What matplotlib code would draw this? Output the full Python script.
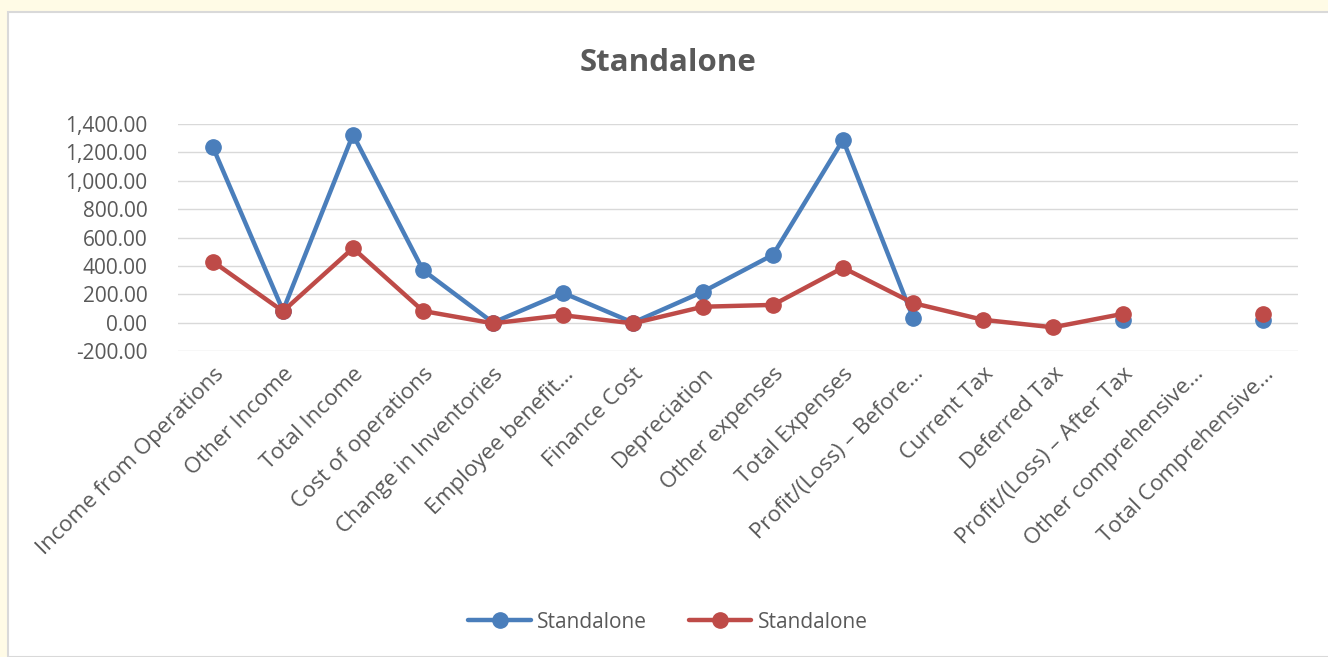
import matplotlib
matplotlib.use('Agg')
import matplotlib.pyplot as plt
from matplotlib.patches import Rectangle
from matplotlib.ticker import FuncFormatter
import numpy as np

categories = [
  'Income from Operations', 'Other Income', 'Total Income', 'Cost of operations',
  'Change in Inventories', 'Employee benefit...', 'Finance Cost', 'Depreciation',
  'Other expenses', 'Total Expenses', 'Profit/(Loss) \u2013 Before...', 'Current Tax',
  'Deferred Tax', 'Profit/(Loss) \u2013 After Tax', 'Other comprehensive...',
  'Total Comprehensive...',
]

# nan = no value in the source table
series_a = [1235, 85, 1325, 370, 0, 210, 0, 218, 478, 1288, 35,
            np.nan, np.nan, 22, np.nan, 22]
series_b = [430, 80, 525, 82, -5, 52, -5, 112, 125, 387, 138,
            20, -33, 62, np.nan, 62]
series_names = ['Standalone', 'Standalone']

blue = '#4a7ebb'
red = '#be4b48'
text_grey = '#595959'

plt.rcParams['font.family'] = ['Open Sans', 'DejaVu Sans']

fig = plt.figure(figsize=(13.28, 6.57), dpi=100)
fig.patch.set_facecolor('#fffbe6')

# white chart box with a light border, kept behind the axes
box = Rectangle((8 / 1328, 0), 1.0, 1 - 12 / 657,
                transform=fig.transFigure, facecolor='white',
                edgecolor='#d9d9d9', linewidth=1.5, zorder=-10)
fig.patches.append(box)

ax = fig.add_axes([178 / 1328, 1 - 351 / 657, (1298 - 178) / 1328, (351 - 124) / 657])
ax.set_zorder(1)
ax.set_facecolor('white')

x = np.arange(len(categories))
ax.plot(x, series_a, color=blue, lw=3.2, marker='o', ms=11, label=series_names[0],
        zorder=3, solid_capstyle='round')
ax.plot(x, series_b, color=red, lw=3.2, marker='o', ms=11, label=series_names[1],
        zorder=4, solid_capstyle='round')

ax.set_xlim(-0.5, len(categories) - 0.5)
ax.set_ylim(-200, 1400)
ax.set_yticks(np.arange(-200, 1401, 200))
ax.yaxis.set_major_formatter(FuncFormatter(lambda v, p: f'{v:,.2f}'))
ax.grid(axis='y', color='#d9d9d9', lw=1)
ax.set_axisbelow(True)
for s in ax.spines.values():
  s.set_visible(False)
ax.tick_params(axis='both', length=0, colors=text_grey, labelsize=15)
ax.tick_params(axis='y', pad=22)

ax.set_xticks(x)
ax.set_xticklabels(categories, rotation=45, ha='right', rotation_mode='anchor',
                   fontsize=16, color=text_grey)
ax.tick_params(axis='x', pad=9)

fig.text(668 / 1328, 1 - 63 / 657, 'Standalone', ha='center', va='center',
         fontsize=22.5, fontweight='bold', color=text_grey)

leg = fig.legend(loc='center', bbox_to_anchor=(668 / 1328, 1 - 622 / 657), ncol=2,
                 frameon=False, fontsize=15, handlelength=3, columnspacing=2.0,
                 handletextpad=0.3)
for t in leg.get_texts():
  t.set_color(text_grey)

fig.savefig('out.png', dpi=100, facecolor=fig.get_facecolor())
